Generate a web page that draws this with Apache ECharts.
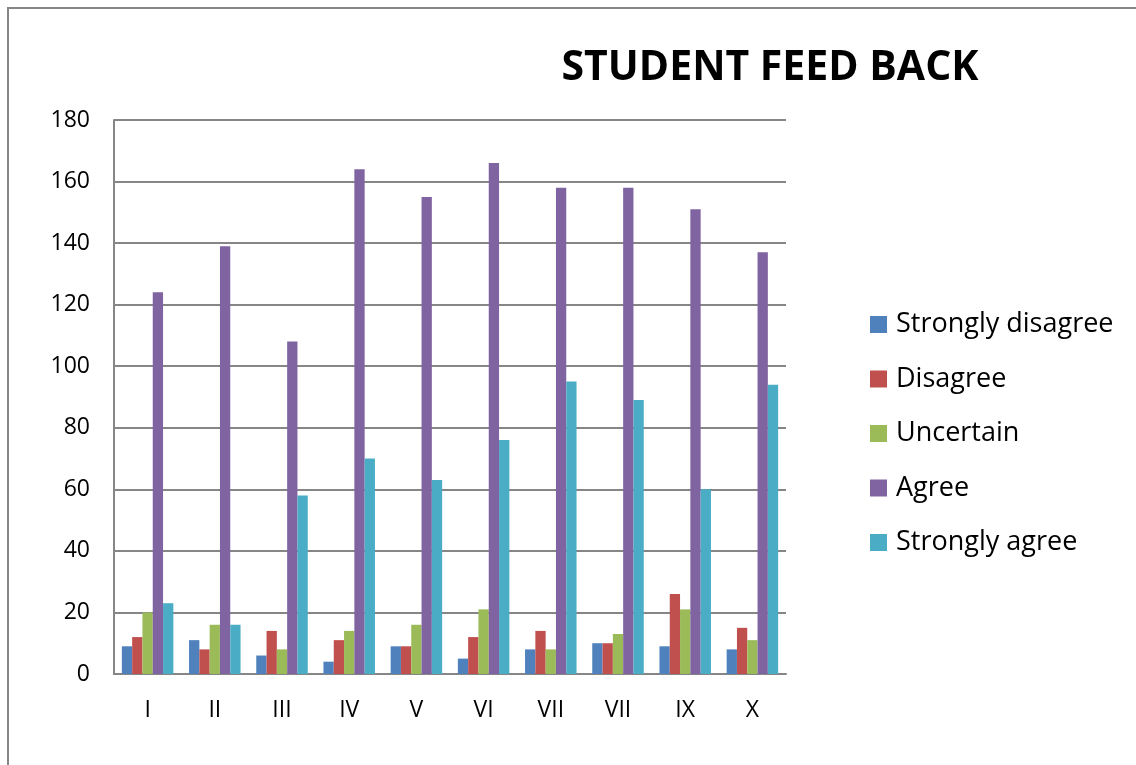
<!DOCTYPE html>
<html>
<head>
<meta charset="utf-8">
<title>Student Feed Back</title>
<script src="https://cdn.jsdelivr.net/npm/echarts@6/dist/echarts.min.js"></script>
<style>
  html, body { margin: 0; padding: 0; background: #fff; }
  #chart { width: 1136px; height: 765px; }
</style>
</head>
<body>
<div id="chart"></div>
<script>
// question numbers along the x axis (the reference repeats "VII")
var categories = ["I", "II", "III", "IV", "V", "VI", "VII", "VII", "IX", "X"];
var seriesNames = ["Strongly disagree", "Disagree", "Uncertain", "Agree", "Strongly agree"];
var stronglyDisagree = [9, 11, 6, 4, 9, 5, 8, 10, 9, 8];
var disagree = [12, 8, 14, 11, 9, 12, 14, 10, 26, 15];
var uncertain = [20, 16, 8, 14, 16, 21, 8, 13, 21, 11];
var agree = [124, 139, 108, 164, 155, 166, 158, 158, 151, 137];
var stronglyAgree = [23, 16, 58, 70, 63, 76, 95, 89, 60, 94];
var yTicks = { min: 0, max: 180, step: 20 };

var colors = ["#4F81BD", "#C0504D", "#9BBB59", "#8064A2", "#4BACC6"];
var values = [stronglyDisagree, disagree, uncertain, agree, stronglyAgree];
var font = "'Open Sans', 'Noto Sans', sans-serif";

var series = seriesNames.map(function (name, i) {
  return {
    name: name,
    type: "bar",
    data: values[i],
    barWidth: 10.3,
    barGap: "0%",
    itemStyle: { color: colors[i] },
    emphasis: { disabled: true }
  };
});

var option = {
  animation: false,
  color: colors,
  title: {
    text: "STUDENT FEED BACK",
    left: 765,
    top: 38,
    textAlign: "center",
    textStyle: {
      fontFamily: font,
      fontSize: 41,
      fontWeight: "bold",
      color: "#000",
      lineHeight: 50
    }
  },
  legend: {
    orient: "vertical",
    left: 865,
    top: 306,
    icon: "rect",
    itemWidth: 17,
    itemHeight: 17,
    itemGap: 27.5,
    data: seriesNames,
    textStyle: {
      fontFamily: font,
      fontSize: 27,
      lineHeight: 27,
      color: "#000",
      padding: [0, 0, 0, 4]
    }
  },
  grid: {
    left: 114,
    right: 350,
    top: 120,
    bottom: 91,
    containLabel: false
  },
  xAxis: {
    type: "category",
    data: categories,
    axisLine: { lineStyle: { color: "#868686", width: 2 } },
    axisTick: { show: false },
    axisLabel: {
      fontFamily: font,
      fontSize: 23,
      color: "#000",
      margin: 25
    }
  },
  yAxis: {
    type: "value",
    min: yTicks.min,
    max: yTicks.max,
    interval: yTicks.step,
    axisLine: { show: true, lineStyle: { color: "#868686", width: 2 } },
    axisTick: { show: false },
    splitLine: { lineStyle: { color: "#868686", width: 2 } },
    axisLabel: {
      fontFamily: font,
      fontSize: 23,
      color: "#000",
      margin: 24
    }
  },
  graphic: [
    {
      // outer chart frame, only the top and left edges are inside the picture
      type: "rect",
      shape: { x: 8, y: 8, width: 1200, height: 800 },
      style: { fill: "none", stroke: "#868686", lineWidth: 2 },
      silent: true
    }
  ],
  series: series
};

var myChart = echarts.init(document.getElementById("chart"));
myChart.setOption(option);
</script>
</body>
</html>
